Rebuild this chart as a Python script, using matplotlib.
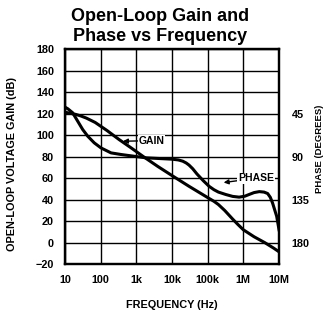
import numpy as np
import matplotlib
matplotlib.use('Agg')
import matplotlib.pyplot as plt

# gain curve (dB)
gain_f = [10, 12, 20, 28, 40, 70, 150, 330, 700, 1600, 4000, 10000,
          30000, 100000, 150000, 200000, 300000, 500000, 700000, 1e6,
          2e6, 4e6, 7e6, 10e6]
gain_db = [121.5, 121, 119.5, 118, 116, 112, 104.5, 96, 88.5, 80, 71, 62.5,
           52.5, 42, 38.5, 35.5, 30, 22, 17, 12,
           5.5, 0, -5, -8.5]

# phase curve (degrees)
phase_f = [10, 12, 16.4, 22.7, 31.3, 43.3, 66, 102, 195, 372, 1860, 10000,
           15000, 20000, 25000, 30000, 38000, 50000, 75000, 110000, 150000,
           200000, 320000, 500000, 760000, 1.1e6, 1.45e6, 2e6, 2.8e6, 3.8e6,
           4.8e6, 5.7e6, 6.6e6, 8.6e6, 10e6]
phase_deg = [38, 39.7, 43.9, 52.7, 61.4, 68.4, 75.4, 80.7, 85.9, 87.6, 91.1, 92.5,
             93.3, 94.6, 96.5, 98.7, 102.5, 108, 115, 121, 124.5,
             127, 129.5, 131.5, 132.3, 131.3, 129.5, 127.5, 126.5, 127,
             128.5, 132.5, 138.5, 152.4, 166.5]

x_ticks = [10, 100, 1e3, 1e4, 1e5, 1e6, 1e7]
x_labels = ['10', '100', '1k', '10k', '100k', '1M', '10M']
y_ticks = list(range(-20, 181, 20))
phase_ticks = [45, 90, 135, 180]

font = 'Liberation Sans'

fig = plt.figure(figsize=(3.29, 3.19), dpi=100)
ax = fig.add_axes([0.1976, 0.172, 0.6505, 0.673])

ax.set_xscale('log')
ax.set_xlim(10, 1e7)
ax.set_ylim(-20, 180)
ax.set_xticks(x_ticks)
ax.set_xticklabels(x_labels)
ax.minorticks_off()
ax.set_yticks(y_ticks)
ax.grid(True, color='black', lw=1.0)
ax.tick_params(length=0, pad=8)
for lab in ax.get_xticklabels() + ax.get_yticklabels():
    lab.set_family(font)
    lab.set_fontweight('bold')
    lab.set_fontsize(7.8)
for s in ax.spines.values():
    s.set_linewidth(1.6)

ax.plot(gain_f, gain_db, color='black', lw=2.2, solid_joinstyle='round')

ax2 = ax.twinx()
ax2.set_ylim(202.5, -22.5)
ax2.set_yticks(phase_ticks)
ax2.tick_params(length=0, pad=9)
for lab in ax2.get_yticklabels():
    lab.set_family(font)
    lab.set_fontweight('bold')
    lab.set_fontsize(7.8)
ax2.plot(phase_f, phase_deg, color='black', lw=2.2, solid_joinstyle='round')
for s in ax2.spines.values():
    s.set_linewidth(1.6)

ax.annotate('GAIN', xy=(420, 94.5), xytext=(1150, 95), fontsize=7.5,
            family=font, fontweight='bold', va='center',
            bbox=dict(fc='white', ec='none', pad=0.5),
            arrowprops=dict(arrowstyle='-|>', color='black', lw=1.0,
                            mutation_scale=7, shrinkA=0, shrinkB=0))
ax.annotate('PHASE', xy=(280000, 56), xytext=(700000, 60), fontsize=7.5,
            family=font, fontweight='bold', va='center',
            bbox=dict(fc='white', ec='none', pad=0.5),
            arrowprops=dict(arrowstyle='-|>', color='black', lw=1.0,
                            mutation_scale=7, shrinkA=0, shrinkB=0))

fig.text(12.5 / 329, 1 - 164 / 319, 'OPEN-LOOP VOLTAGE GAIN (dB)', rotation=90,
         ha='center', va='center', family=font, fontweight='bold', fontsize=7.8)
fig.text(319 / 329, 1 - 149 / 319, 'PHASE (DEGREES)', rotation=90,
         ha='center', va='center', family=font, fontweight='bold', fontsize=6.8)
fig.text(172 / 329, 1 - 305 / 319, 'FREQUENCY (Hz)',
         ha='center', va='center', family=font, fontweight='bold', fontsize=7.8)

fig.text(0.487, 0.975, 'Open-Loop Gain and\nPhase vs Frequency',
         ha='center', va='top', fontsize=13, fontweight='bold',
         family=font, linespacing=1.2)

fig.savefig('out.png', dpi=100)
